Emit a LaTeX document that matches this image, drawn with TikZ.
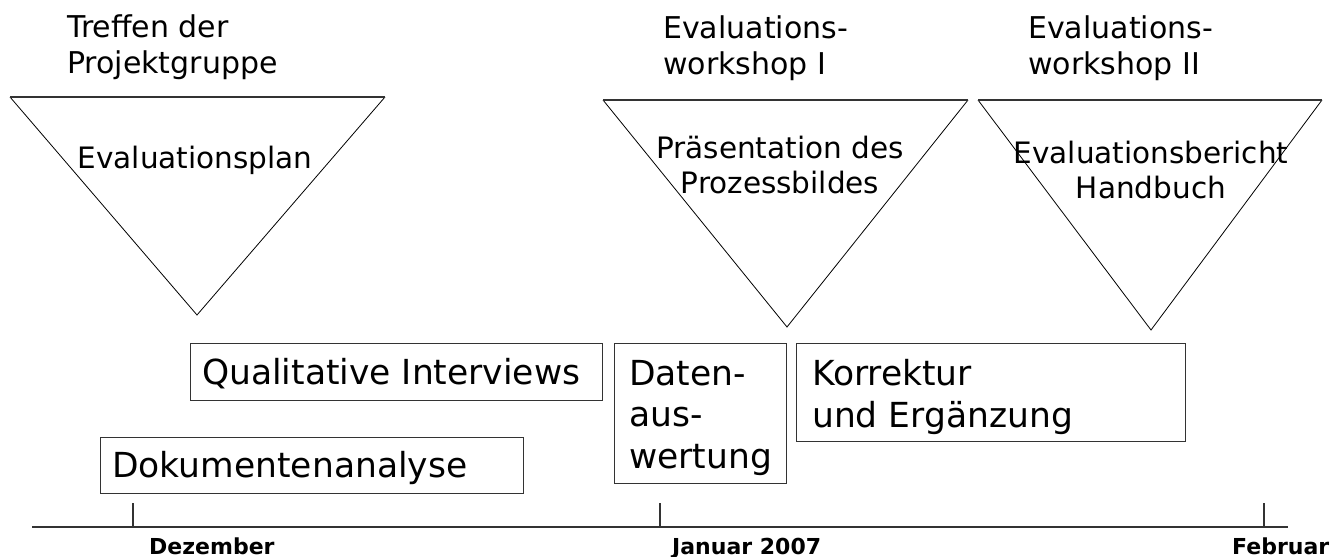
\documentclass[tikz,border=0pt]{standalone}
\usepackage{fontspec}
\setmainfont{DejaVu Sans}
\begin{document}
\begin{tikzpicture}[x=1pt,y=-1pt]
\tikzset{
  tri/.style={draw=black, line width=0.8pt, line join=miter},
  tritop/.style={draw=black!80, line width=1.4pt},
  box/.style={draw=black!80, line width=1.4pt, inner sep=0pt, anchor=north west},
  head/.style={font=\fontsize{30}{36}\selectfont, anchor=base west, inner sep=0pt, align=left},
  trilabel/.style={font=\fontsize{29.5}{35}\selectfont, anchor=base, inner sep=0pt, align=center},
  boxtext/.style={font=\fontsize{34.5}{41.5}\selectfont, anchor=base west, inner sep=0pt, align=left},
  month/.style={font=\bfseries\fontsize{22}{26}\selectfont, anchor=base west, inner sep=0pt},
  axisline/.style={draw=black!80, line width=1.4pt},
}
\useasboundingbox (0,0) rectangle (1342,557);

% milestone triangles
\coordinate (t1l) at (10,97);   \coordinate (t1r) at (385,97);   \coordinate (t1a) at (197,315);
\coordinate (t2l) at (603,100); \coordinate (t2r) at (968,100);  \coordinate (t2a) at (787,327);
\coordinate (t3l) at (978,100); \coordinate (t3r) at (1322,100); \coordinate (t3a) at (1151,330);
\draw[tri] (t1r) -- (t1a) -- (t1l);
\draw[tri] (t2r) -- (t2a) -- (t2l);
\draw[tri] (t3r) -- (t3a) -- (t3l);
\draw[tritop] (t1l) -- (t1r);
\draw[tritop] (t2l) -- (t2r);
\draw[tritop] (t3l) -- (t3r);

% milestone headings (anchored at the baseline of the last line)
\node[head] (h1) at (67,73) {Treffen der\\Projektgruppe};
\node[head] (h2) at (663,74) {Evaluations-\\workshop I};
\node[head] (h3) at (1028,74) {Evaluations-\\workshop II};

% milestone results
\node[trilabel] (r1) at (195,168) {Evaluationsplan};
\node[trilabel] (r2) at (780,193) {Präsentation des\\Prozessbildes};
\node[trilabel] (r3) at (1151,198) {Evaluationsbericht\\Handbuch};

% work packages
\node[box, minimum width=412pt, minimum height=57pt] (qi)  at (190,343) {};
\node[box, minimum width=423pt, minimum height=56pt] (dok) at (100,437) {};
\node[box, minimum width=172pt, minimum height=140pt] (dat) at (614,343) {};
\node[box, minimum width=389pt, minimum height=98pt] (kor) at (796,343) {};
\node[boxtext] (qit)  at (202,384) {Qualitative Interviews};
\node[boxtext] (dokt) at (112,477) {Dokumentenanalyse};
\node[boxtext] (datt) at (629,468) {Daten-\\aus-\\wertung};
\node[boxtext] (kort) at (812,427) {Korrektur\\und Ergänzung};

% time axis
\coordinate (axL) at (32,527);
\coordinate (axR) at (1288,527);
\coordinate (dezT) at (133,503);  \coordinate (dezB) at (133,527);
\coordinate (janT) at (660,503);  \coordinate (janB) at (660,527);
\coordinate (febT) at (1264,503); \coordinate (febB) at (1264,527);
\draw[axisline] (axL) -- (axR);
\draw[axisline] (dezT) -- (dezB);
\draw[axisline] (janT) -- (janB);
\draw[axisline] (febT) -- (febB);
\node[month] (dez) at (149,554) {Dezember};
\node[month] (jan) at (672,554) {Januar 2007};
\node[month] (feb) at (1232,554) {Februar};
\end{tikzpicture}
\end{document}
